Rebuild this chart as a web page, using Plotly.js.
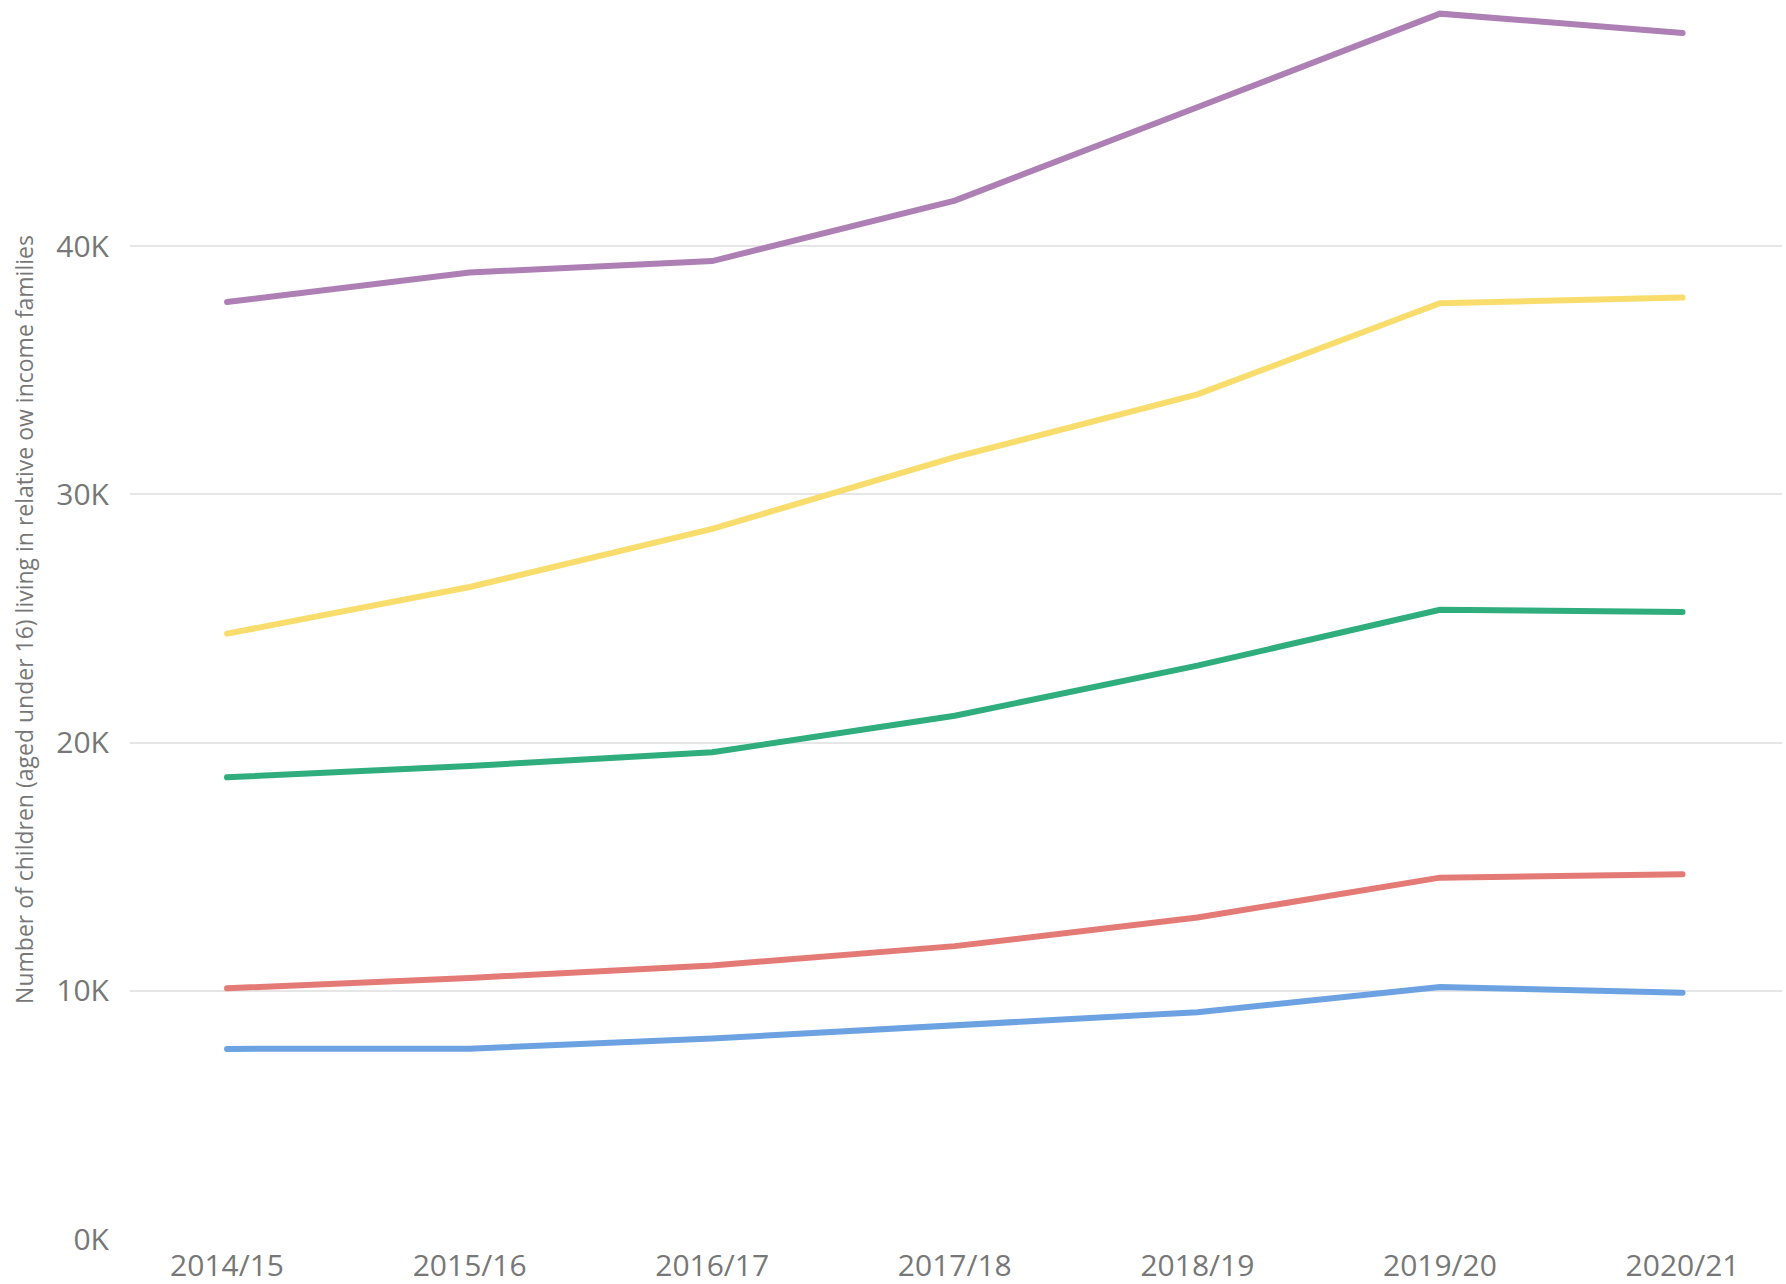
<!DOCTYPE html>
<html>
<head>
<meta charset="utf-8">
<script src="https://cdn.plot.ly/plotly-3.0.1.min.js"></script>
<style>html,body{margin:0;padding:0;background:#fff;}#chart{width:1786px;height:1284px;}
#chart path.js-line{stroke-linecap:round;}</style>
</head>
<body>
<div id="chart"></div>
<script>
const years = ["2014/15","2015/16","2016/17","2017/18","2018/19","2019/20","2020/21"];
const seriesPurple = [37750, 38940, 39400, 41840, 45600, 49370, 48590];
const seriesYellow = [24390, 26270, 28610, 31500, 34030, 37700, 37930];
const seriesGreen  = [18600, 19060, 19610, 21080, 23100, 25350, 25260];
const seriesRed    = [10100, 10520, 11020, 11800, 12950, 14560, 14700];
const seriesBlue   = [7660, 7670, 8080, 8590, 9140, 10150, 9920];
const yTickVals = [0, 10000, 20000, 30000, 40000];
const yTickText = ["0K", "10K", "20K", "30K", "40K"];
const yTitle = "Number of children (aged under 16) living in relative ow income families";

const series = [
  {y: seriesBlue, color: "#6CA2E2"},
  {y: seriesRed, color: "#E47A76"},
  {y: seriesGreen, color: "#2FAD7C"},
  {y: seriesYellow, color: "#F8DD6D"},
  {y: seriesPurple, color: "#AD7FB4"}
];

const traces = series.map(s => ({
  x: years, y: s.y, type: "scatter", mode: "lines",
  line: {color: s.color, width: 6},
  hoverinfo: "skip", showlegend: false
}));

const layout = {
  width: 1786, height: 1284,
  margin: {l: 130, r: 4, t: 0, b: 45},
  paper_bgcolor: "#fff", plot_bgcolor: "#fff",
  font: {family: "Open Sans, Noto Sans, sans-serif", color: "#777"},
  xaxis: {
    type: "category", range: [-0.4, 6.41],
    showgrid: false, zeroline: false, showline: false,
    ticks: "", ticklabelstandoff: 6,
    tickfont: {size: 30, color: "#777"}
  },
  yaxis: {
    range: [0, 49920],
    tickvals: yTickVals, ticktext: yTickText,
    showgrid: true, gridcolor: "#e6e6e6", gridwidth: 2,
    zeroline: false, showline: false, ticks: "",
    ticklabelstandoff: 20,
    tickfont: {size: 30, color: "#777"},
    title: {text: yTitle, font: {size: 23, color: "#777"}, standoff: 16}
  },
  showlegend: false
};

Plotly.newPlot("chart", traces, layout, {displayModeBar: false, staticPlot: true});
</script>
</body>
</html>
